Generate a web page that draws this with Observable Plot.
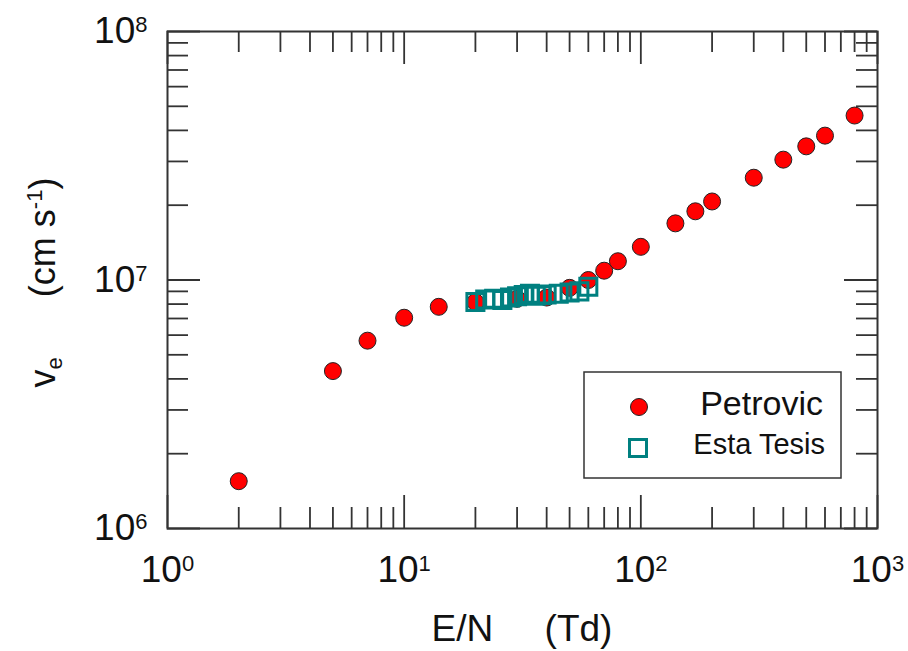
<!DOCTYPE html>
<html>
<head>
<meta charset="utf-8">
<script src="https://cdn.jsdelivr.net/npm/d3@7"></script>
<script src="https://cdn.jsdelivr.net/npm/@observablehq/plot@0.6"></script>
<style>
  html, body { margin: 0; padding: 0; background: #fff; }
  #chart { width: 908px; height: 651px; }
</style>
</head>
<body>
<div id="chart"></div>
<script>
// ---- data ----
const petrovicEN = [2, 5, 7, 10, 14, 20, 30, 40, 50, 60, 70, 80, 100, 140, 170, 200, 300, 400, 500, 600, 800];
const petrovicVe = [1.55e6, 4.3e6, 5.7e6, 7.05e6, 7.8e6, 8.15e6, 8.4e6, 8.5e6, 9.3e6, 1.0e7, 1.09e7, 1.19e7, 1.36e7, 1.69e7, 1.89e7, 2.07e7, 2.58e7, 3.05e7, 3.45e7, 3.81e7, 4.59e7];

const tesisEN = [20, 22, 24, 26, 28, 30, 32, 34, 36, 38, 40, 45, 50, 55, 60];
const tesisVe = [8.15e6, 8.35e6, 8.4e6, 8.3e6, 8.5e6, 8.6e6, 8.7e6, 8.8e6, 8.65e6, 8.7e6, 8.75e6, 8.8e6, 8.9e6, 9.0e6, 9.4e6];

const xMajor = [1, 10, 100, 1000];
const xMinor = [2, 3, 4, 5, 6, 7, 8, 9, 20, 30, 40, 50, 60, 70, 80, 90, 200, 300, 400, 500, 600, 700, 800, 900];
const yMajor = [1e6, 1e7, 1e8];
const yMinor = [2e6, 3e6, 4e6, 5e6, 6e6, 7e6, 8e6, 9e6, 2e7, 3e7, 4e7, 5e7, 6e7, 7e7, 8e7, 9e7];

const seriesNames = ["Petrovic", "Esta Tesis"];
const xLabel = "E/N";
const xUnit = "(Td)";

// ---- build ----
const petrovic = petrovicEN.map((x, i) => ({x, y: petrovicVe[i]}));
const tesis = tesisEN.map((x, i) => ({x, y: tesisVe[i]}));

const W = 908, H = 651;
const mL = 167, mR = 31, mT = 31, mB = 123;
const pW = W - mL - mR, pH = H - mT - mB;
const majorLen = 33, minorLen = 21;
const axisColor = "#333";
const tw = 1.8;

const chart = Plot.plot({
  width: W, height: H,
  marginLeft: mL, marginRight: mR, marginTop: mT, marginBottom: mB,
  style: {fontFamily: "'Liberation Sans', Arial, sans-serif", fontSize: "37px", color: "#111", background: "#fff"},
  x: {type: "log", domain: [1, 1000]},
  y: {type: "log", domain: [1e6, 1e8]},
  marks: [
    // inward ticks, all four sides
    Plot.tickX(xMinor, {x: d => d, insetTop: pH - minorLen, stroke: axisColor, strokeWidth: tw}),
    Plot.tickX(xMinor, {x: d => d, insetBottom: pH - minorLen, stroke: axisColor, strokeWidth: tw}),
    Plot.tickX(xMajor, {x: d => d, insetTop: pH - majorLen, stroke: axisColor, strokeWidth: tw}),
    Plot.tickX(xMajor, {x: d => d, insetBottom: pH - majorLen, stroke: axisColor, strokeWidth: tw}),
    Plot.tickY(yMinor, {y: d => d, insetRight: pW - minorLen, stroke: axisColor, strokeWidth: tw}),
    Plot.tickY(yMinor, {y: d => d, insetLeft: pW - minorLen, stroke: axisColor, strokeWidth: tw}),
    Plot.tickY(yMajor, {y: d => d, insetRight: pW - majorLen, stroke: axisColor, strokeWidth: tw}),
    Plot.tickY(yMajor, {y: d => d, insetLeft: pW - majorLen, stroke: axisColor, strokeWidth: tw}),
    Plot.frame({stroke: axisColor, strokeWidth: 2}),
    Plot.axisX({ticks: xMajor, tickSize: 0, tickPadding: 27, label: null,
      tickFormat: d => String(Math.round(Math.log10(d))), fontSize: 37}),
    Plot.axisY({ticks: yMajor, tickSize: 0, tickPadding: 20, label: null,
      tickFormat: d => String(Math.round(Math.log10(d))), fontSize: 37}),
    Plot.dot(petrovic, {x: "x", y: "y", r: 8.5, fill: "#ff0000", stroke: "#222", strokeWidth: 1}),
    Plot.dot(tesis, {x: "x", y: "y", symbol: "square", r: 9.6, fill: "none", stroke: "#008080", strokeWidth: 3})
  ]
});

document.getElementById("chart").appendChild(chart);

const svg = d3.select(chart);

// superscript tick labels: 10^n
svg.selectAll('g[aria-label="x-axis tick label"] text, g[aria-label="y-axis tick label"] text').each(function() {
  const t = d3.select(this);
  const exp = t.text();
  t.text("10");
  t.append("tspan").attr("font-size", 22).attr("dy", -11).text(exp);
});

// x axis title
svg.append("text")
  .attr("x", mL + pW / 2).attr("y", 641)
  .attr("text-anchor", "middle")
  .attr("font-size", 37).attr("fill", "#111")
  .text(xLabel + "\u00a0\u00a0\u00a0\u00a0\u00a0" + xUnit);

// y axis title
const yt = svg.append("text")
  .attr("transform", `translate(55,${mT + pH / 2 + 3}) rotate(-90)`)
  .attr("text-anchor", "middle")
  .attr("font-size", 36).attr("fill", "#111");
yt.append("tspan").text("v");
yt.append("tspan").attr("font-size", 22).attr("dy", 7).text("e");
yt.append("tspan").attr("dy", -7).text("\u00a0\u00a0\u00a0\u00a0\u00a0\u00a0(cm s");
yt.append("tspan").attr("font-size", 22).attr("dy", -13).text("-1");
yt.append("tspan").attr("dy", 13).text(")");

// legend
const lg = svg.append("g");
lg.append("rect").attr("x", 584).attr("y", 372).attr("width", 257).attr("height", 106)
  .attr("fill", "#fff").attr("stroke", axisColor).attr("stroke-width", 1.5);
lg.append("circle").attr("cx", 639).attr("cy", 407).attr("r", 8.5)
  .attr("fill", "#ff0000").attr("stroke", "#222").attr("stroke-width", 1);
lg.append("rect").attr("x", 638 - 8.5).attr("y", 448 - 8.5).attr("width", 17).attr("height", 17)
  .attr("fill", "none").attr("stroke", "#008080").attr("stroke-width", 3);
lg.append("text").attr("x", 823).attr("y", 415).attr("text-anchor", "end")
  .attr("font-size", 34).attr("fill", "#111").text(seriesNames[0]);
lg.append("text").attr("x", 825).attr("y", 454).attr("text-anchor", "end")
  .attr("font-size", 29).attr("fill", "#111").text(seriesNames[1]);
</script>
</body>
</html>
